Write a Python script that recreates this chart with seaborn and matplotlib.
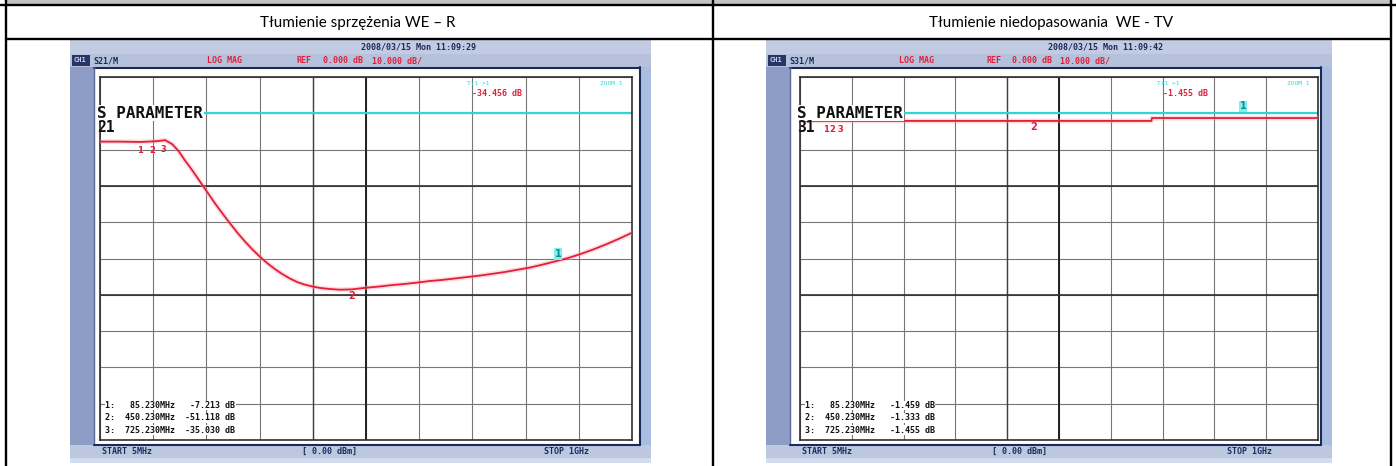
import numpy as np
import pandas as pd
import seaborn as sns
import matplotlib
matplotlib.use("Agg")
import matplotlib.pyplot as plt
from matplotlib.patches import Rectangle

sns.set_theme(style="white")
plt.rcParams['font.family'] = ['DejaVu Sans']

# ---------------- data ----------------
titles = ["Tłumienie sprzężenia WE – R", "Tłumienie niedopasowania  WE - TV"]
dates = ["2008/03/15 Mon 11:09:29", "2008/03/15 Mon 11:09:42"]
channel_labels = ["S21/M", "S31/M"]
sparam_labels = ["21", "31"]
start_label = "START 5MHz"
stop_label = "STOP 1GHz"
power_label = "[ 0.00 dBm]"
format_label = "LOG MAG"
ref_label = "REF"
ref_value = "0.000 dB"
scale_label = "10.000 dB/"

freq_start, freq_stop = 5, 1000          # MHz
ref_level = 0                            # dB
db_per_div = 10

# S21 trace (MHz, dB)
s21_freq = [5, 40, 80, 110, 127, 140, 152, 164, 178, 192, 206, 220, 234, 248, 262,
            276, 290, 304, 318, 332, 346, 360, 374, 388, 402, 416, 435, 454, 476,
            500, 529, 552, 576, 600, 622, 645, 669, 692, 716, 740, 763, 786, 809,
            832, 856, 880, 903, 926, 950, 975, 1000]
s21_db = [-7.8, -7.8, -7.9, -7.7, -7.4, -8.5, -10.4, -13.0, -15.8, -18.8, -21.8,
          -24.8, -27.6, -30.3, -32.9, -35.3, -37.5, -39.5, -41.3, -42.9, -44.3,
          -45.5, -46.5, -47.2, -47.7, -48.1, -48.4, -48.6, -48.5, -48.1, -47.7,
          -47.3, -47.0, -46.6, -46.2, -45.9, -45.5, -45.1, -44.7, -44.2, -43.7,
          -43.1, -42.5, -41.7, -40.8, -39.9, -38.8, -37.6, -36.2, -34.6, -32.9]

# S31 trace (MHz, dB)
s31_freq = [5, 100, 200, 300, 400, 500, 600, 680, 681, 760, 840, 920, 1000]
s31_db = [-2.1, -2.1, -2.1, -2.1, -2.1, -2.1, -2.1, -2.1, -1.3, -1.3, -1.3, -1.3, -1.3]

# markers
cluster_freq = [[80, 102, 124], [54, 68, 82]]
cluster_db = [[-7.8, -7.8, -7.6], [-2.1, -2.1, -2.1]]
m2_freq = [476, 453]
m2_db = [-48.5, -2.1]
active_freq = [862, 856]
active_db = [-40.6, 0.1]
active_readout = ["-34.456 dB", "-1.455 dB"]
marker_table = [
    ["1:   85.230MHz   -7.213 dB", "2:  450.230MHz  -51.118 dB", "3:  725.230MHz  -35.030 dB"],
    ["1:   85.230MHz   -1.459 dB", "2:  450.230MHz   -1.333 dB", "3:  725.230MHz   -1.455 dB"],
]

# ---------------- layout (pixels) ----------------
W, H = 1396, 466
fig = plt.figure(figsize=(W / 100, H / 100), dpi=100)
bg = fig.add_axes([0, 0, 1, 1])
bg.set_xlim(0, W)
bg.set_ylim(H, 0)
bg.axis('off')


def fbox(x0, y0, x1, y1):
    return [x0 / W, 1 - y1 / H, (x1 - x0) / W, (y1 - y0) / H]


def rect(x0, y0, x1, y1, color, z=1, **kw):
    bg.add_patch(Rectangle((x0, y0), x1 - x0, y1 - y0, facecolor=color,
                           edgecolor='none', zorder=z, **kw))


# table
rect(6, 0, 1391, 5, '#c3c3c3')
lw_tab = 1.7
bg.plot([0, W], [5, 5], color='black', lw=lw_tab, zorder=5)
bg.plot([6, 1391], [39, 39], color='black', lw=lw_tab, zorder=5)
for xv in [6, 713, 1391]:
    bg.plot([xv, xv], [0, H], color='black', lw=lw_tab, zorder=5)

centers = [358, 1051]
for c, t in zip(centers, titles):
    bg.text(c, 23, t, ha='center', va='center', fontsize=11,
            family=['Lato', 'DejaVu Sans'], color='black')

mono = ['DejaVu Sans Mono']
navy = '#1c2a5a'
red = '#e0203a'
cyan = '#30d6d6'

screens = [
    dict(x0=70, x1=651, gx0=100, gx1=632),
    dict(x0=766, x1=1332, gx0=800, gx1=1318),
]
traces = [(s21_freq, s21_db), (s31_freq, s31_db)]
gy0, gy1 = 77, 440

for i, sc in enumerate(screens):
    x0, x1, gx0, gx1 = sc['x0'], sc['x1'], sc['gx0'], sc['gx1']
    w = x1 - x0
    # screenshot frame
    rect(x0, 40, x1, 463, '#c7cfe4')
    rect(x0, 40, x1, 54, '#c2cbe2')
    rect(x0, 54, x1, 67, '#b6c1dc')
    rect(x0 + 2, 55, x0 + 20, 66, '#2a3566')
    bg.text(x0 + 3, 60.5, "CH1", fontsize=5, color='#c8d0ea', va='center',
            family=mono, weight='bold', zorder=3)
    bg.text(x0 + 0.60 * w, 46.5, dates[i], fontsize=6, color=navy, va='center',
            ha='center', family=mono, weight='bold', zorder=3)
    bg.text(x0 + 23, 60.5, channel_labels[i], fontsize=6, color=navy,
            va='center', family=mono, weight='bold', zorder=3)
    bg.text(x0 + 0.235 * w, 60.5, format_label, fontsize=6, color=red,
            va='center', family=mono, weight='bold', zorder=3)
    bg.text(x0 + 0.39 * w, 60.5, ref_label, fontsize=6, color=red,
            va='center', family=mono, weight='bold', zorder=3)
    bg.text(x0 + 0.435 * w, 60.5, ref_value, fontsize=6, color=red,
            va='center', family=mono, weight='bold', zorder=3)
    bg.text(x0 + 0.52 * w, 60.5, scale_label, fontsize=6, color=red,
            va='center', family=mono, weight='bold', zorder=3)
    # side strip and screen
    rect(x0, 67, x0 + 24, 445, '#8d9dc6', z=2)
    rect(x0 + 24, 67, x1 - 11, 445, 'white', z=2)
    rect(x1 - 11, 67, x1, 445, '#a9bde0', z=2)
    bg.plot([x0 + 24, x1 - 11], [67.5, 67.5], color=navy, lw=1.5, zorder=3)
    bg.plot([x1 - 11, x1 - 11], [67, 445], color=navy, lw=1.5, zorder=3)
    bg.plot([x0 + 24, x0 + 24], [67, 445], color='#5a6a98', lw=1.0, zorder=3)
    # bottom bar
    rect(x0, 445, x1, 458, '#bcc7e0', z=2)
    rect(x0, 458, x1, 463, '#d3dbef', z=2)
    bg.plot([x0 + 24, x1 - 11], [445, 445], color=navy, lw=1.5, zorder=3)
    bg.text(gx0 + 2, 451.5, start_label, fontsize=6, color=navy, va='center',
            family=mono, weight='bold', zorder=3)
    bg.text(x0 + 0.40 * w, 451.5, power_label, fontsize=6, color=navy,
            va='center', family=mono, weight='bold', zorder=3)
    bg.text(x0 + 0.815 * w, 451.5, stop_label, fontsize=6, color=navy,
            va='center', family=mono, weight='bold', zorder=3)

    # measurement grid
    ax = fig.add_axes(fbox(gx0, gy0, gx1, gy1))
    ax.set_facecolor('none')
    ax.set_xlim(freq_start, freq_stop)
    ax.set_ylim(ref_level - 9 * db_per_div, ref_level + db_per_div)
    xt = np.linspace(freq_start, freq_stop, 11)
    yt = np.arange(ref_level - 9 * db_per_div, ref_level + db_per_div + 1, db_per_div)
    ax.set_xticks(xt)
    ax.set_yticks(yt)
    ax.tick_params(length=0, labelbottom=False, labelleft=False)
    ax.grid(True, color='#767676', lw=0.8, ls='-')
    ax.axvline(xt[5], color='#202020', lw=1.4, zorder=1)
    ax.axvline(xt[4], color='#404040', lw=1.0, zorder=1)
    ax.axhline(yt[4], color='#303030', lw=1.2, zorder=1)
    ax.axhline(yt[7], color='#303030', lw=1.2, zorder=1)
    for s in ax.spines.values():
        s.set_color('#303030')
        s.set_linewidth(1.2)
    # reference line
    ax.axhline(ref_level, color=cyan, lw=1.6, zorder=2)

    f, d = traces[i]
    df = pd.DataFrame({'f': f, 'db': d})
    ax.plot(df['f'], df['db'], color='#ff9aa8', lw=3.5, alpha=0.35, zorder=3)
    sns.lineplot(data=df, x='f', y='db', ax=ax, color=red, lw=1.3,
                 zorder=4, estimator=None, sort=False)
    ax.set_xlabel('')
    ax.set_ylabel('')

    # text inside screen
    ax.text(0.0, ref_level, "S PARAMETER", fontsize=11.5, family=mono,
            weight='bold', color='#111111', va='center', ha='left', zorder=6,
            bbox=dict(facecolor='white', edgecolor='none', pad=0.5))
    ax.text(0.0, ref_level - 4.0, sparam_labels[i], fontsize=10.5, family=mono,
            weight='bold', color='#111111', va='center', ha='left', zorder=6)
    for cf, cd, lab in zip(cluster_freq[i], cluster_db[i], ['1', '2', '3']):
        ax.text(cf, cd - 2.4, lab, fontsize=6, color=red, weight='bold',
                ha='center', va='center', zorder=6)
    ax.text(m2_freq[i], m2_db[i] - 1.8, "2", fontsize=7, color=red,
            weight='bold', ha='center', va='center', zorder=6)
    ax.text(active_freq[i], active_db[i] + 1.8, "1", fontsize=7, color='#1a8a8a',
            weight='bold', ha='center', va='center', zorder=6,
            bbox=dict(facecolor='#7ff0f0', edgecolor='none', pad=0.6))
    ax.text(0.69, 0.983, "Tr1 >1", transform=ax.transAxes, fontsize=4.5,
            color=cyan, family=mono, ha='left', va='center', zorder=6)
    ax.text(0.70, 0.955, active_readout[i], transform=ax.transAxes, fontsize=6,
            color=red, family=mono, weight='bold', ha='left', va='center', zorder=6)
    ax.text(0.94, 0.983, "ZOOM 1", transform=ax.transAxes, fontsize=4.5,
            color=cyan, family=mono, ha='left', va='center', zorder=6)
    # marker table
    for k, row in enumerate(marker_table[i]):
        ax.text(0.01, 0.095 - k * 0.034, row, transform=ax.transAxes,
                fontsize=6, family=mono, weight='bold', color='#111111',
                ha='left', va='center', zorder=6,
                bbox=dict(facecolor='white', edgecolor='none', pad=0.2))

fig.savefig("out.png", dpi=100)
